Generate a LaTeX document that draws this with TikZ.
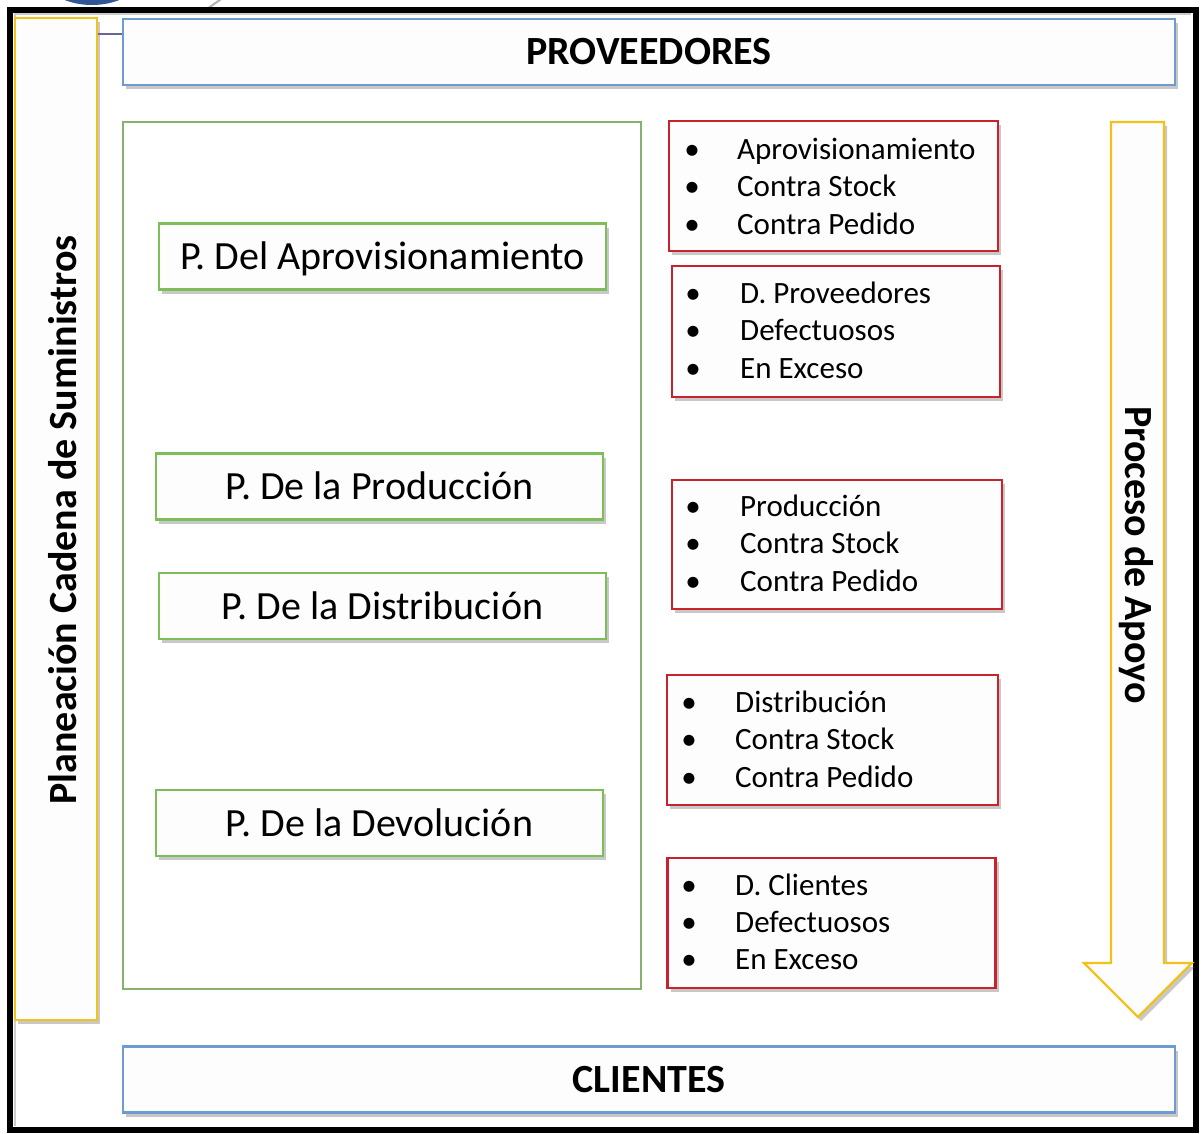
\documentclass[tikz,border=0pt]{standalone}
\usepackage{fontspec}
\setmainfont{Carlito}
\usetikzlibrary{shadows,calc}
\definecolor{bblue}{HTML}{6E9CD0}
\definecolor{ggreen}{HTML}{7DBE58}
\definecolor{bggreen}{HTML}{86B26E}
\definecolor{rred}{HTML}{C8222C}
\definecolor{yyel}{HTML}{F2C11A}
\definecolor{boxfill}{HTML}{FDFDFD}
\definecolor{dblue}{HTML}{2F5597}
\begin{document}
\begin{tikzpicture}[x=1pt,y=-1pt,
  shadowed/.style={drop shadow={shadow xshift=3pt,shadow yshift=-4pt,opacity=0.3,fill=black!70}},
  basebox/.style={draw,fill=boxfill,line width=2.2pt,inner sep=0pt,shadowed},
  bluebox/.style={basebox,draw=bblue,minimum width=1052,minimum height=66},
  greenbox/.style={basebox,draw=ggreen,minimum width=447,minimum height=66},
  redbox/.style={basebox,draw=rred,minimum height=130},
  yelbox/.style={basebox,draw=yyel},
  bigtxt/.style={font=\fontsize{40}{48}\selectfont\bfseries,inner sep=0pt},
  gtxt/.style={font=\fontsize{40}{48}\selectfont,inner sep=0pt},
  ltxt/.style={font=\fontsize{31}{37}\selectfont,inner sep=0pt,anchor=base west},
  bul/.style={font=\fontsize{31}{37}\selectfont,inner sep=0pt,anchor=base}]
\useasboundingbox (0,0) rectangle (1204,1133);
\fill[white] (0,0) rectangle (1204,1133);
% top artifacts
\begin{scope}
\clip (0,0) rectangle (1204,8);
\fill[dblue] (92,-30) ellipse [x radius=53, y radius=35];
\draw[gray!60,line width=2pt] (207,9) -- (224,-3);
\end{scope}
% outer frame
\draw[gray!40,line width=2pt] (15,1126) -- (15,14) -- (1191,14);
\draw[black,line width=6pt] (10,10) rectangle (1196,1130);
% top / bottom
\node[bluebox] (prov) at (649,52) {};
\node[bigtxt] (provt) at (prov.center) {PROVEEDORES};
\node[bluebox] (cli) at (649,1079.5) {};
\node[bigtxt] (clit) at (cli.center) {CLIENTES};
% left yellow
\node[yelbox,minimum width=82,minimum height=1002] (plan) at (56,519) {};
\node[bigtxt,rotate=90,anchor=base] (plant) at (76,520) {Planeación Cadena de Suministros};
\coordinate (cstart) at ($(plan.north east)+(0,17)$);
\draw[gray!80!blue,line width=1.5pt] (cstart) -- (cstart -| prov.west);
% big green frame
\node[draw=bggreen,line width=2pt,minimum width=518,minimum height=867,inner sep=0pt] (frame) at (382,555.5) {};
% green boxes
\node[greenbox] (g1) at (382.5,256.5) {};
\node[gtxt,anchor=base] (g1t) at (382.5,269) {P. Del Aprovisionamiento};
\node[greenbox] (g2) at (379.5,486.5) {};
\node[gtxt,anchor=base] (g2t) at (379.5,499) {P. De la Producción};
\node[greenbox] (g3) at (382.5,606) {};
\node[gtxt,anchor=base] (g3t) at (382.5,619) {P. De la Distribución};
\node[greenbox] (g4) at (379.5,823) {};
\node[gtxt,anchor=base] (g4t) at (379.5,836) {P. De la Devolución};
% red boxes
\node[redbox,minimum width=329] (r1) at (833.5,186) {};
\node[bul] (r1b1) at (692,159) {\textbullet}; \node[ltxt] (r1l1) at (737,159) {Aprovisionamiento};
\node[bul] (r1b2) at (692,196) {\textbullet}; \node[ltxt] (r1l2) at (737,196) {Contra Stock};
\node[bul] (r1b3) at (692,234) {\textbullet}; \node[ltxt] (r1l3) at (737,234) {Contra Pedido};
\node[redbox,minimum width=328,minimum height=131] (r2) at (836,331.5) {};
\node[bul] (r2b1) at (693,303) {\textbullet}; \node[ltxt] (r2l1) at (740,303) {D. Proveedores};
\node[bul] (r2b2) at (693,340) {\textbullet}; \node[ltxt] (r2l2) at (740,340) {Defectuosos};
\node[bul] (r2b3) at (693,378) {\textbullet}; \node[ltxt] (r2l3) at (740,378) {En Exceso};
\node[redbox,minimum width=330,minimum height=129] (r3) at (837,544.5) {};
\node[bul] (r3b1) at (693,516) {\textbullet}; \node[ltxt] (r3l1) at (740,516) {Producción};
\node[bul] (r3b2) at (693,553) {\textbullet}; \node[ltxt] (r3l2) at (740,553) {Contra Stock};
\node[bul] (r3b3) at (693,591) {\textbullet}; \node[ltxt] (r3l3) at (740,591) {Contra Pedido};
\node[redbox,minimum width=331] (r4) at (832.5,740) {};
\node[bul] (r4b1) at (689,712) {\textbullet}; \node[ltxt] (r4l1) at (735,712) {Distribución};
\node[bul] (r4b2) at (689,749) {\textbullet}; \node[ltxt] (r4l2) at (735,749) {Contra Stock};
\node[bul] (r4b3) at (689,787) {\textbullet}; \node[ltxt] (r4l3) at (735,787) {Contra Pedido};
\node[redbox,minimum width=328,minimum height=130] (r5) at (831.5,923) {};
\node[bul] (r5b1) at (689,895) {\textbullet}; \node[ltxt] (r5l1) at (735,895) {D. Clientes};
\node[bul] (r5b2) at (689,932) {\textbullet}; \node[ltxt] (r5l2) at (735,932) {Defectuosos};
\node[bul] (r5b3) at (689,969) {\textbullet}; \node[ltxt] (r5l3) at (735,969) {En Exceso};
% arrow
\draw[yyel,fill=boxfill,line width=2.2pt,line join=miter,shadowed]
  (1111,122) -- (1164,122) -- (1164,963) -- (1192,963) -- (1138,1017) -- (1084,963) -- (1111,963) -- cycle;
\node[bigtxt,rotate=-90,anchor=base] (apoyo) at (1125,555) {Proceso de Apoyo};
\end{tikzpicture}
\end{document}
